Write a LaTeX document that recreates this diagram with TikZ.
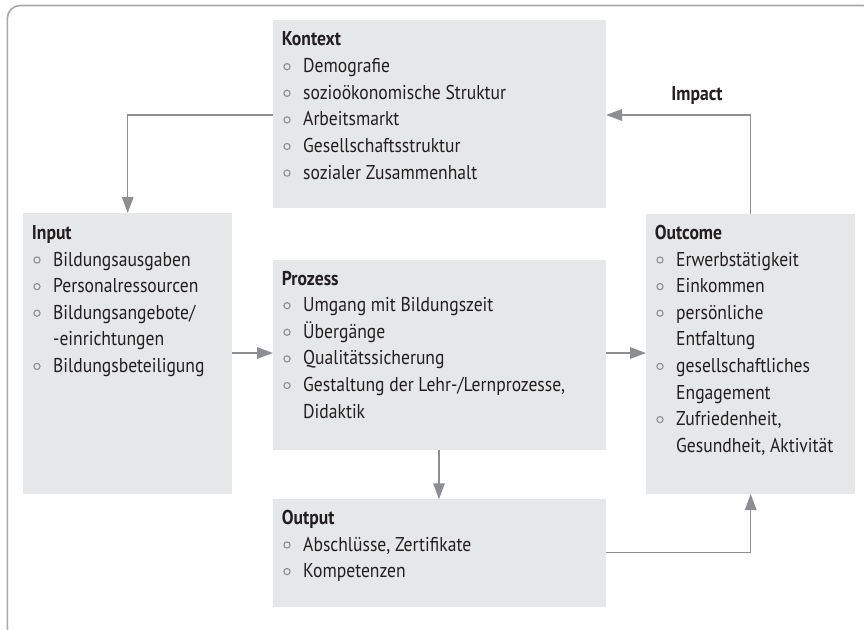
\documentclass[tikz,border=0pt]{standalone}
\usepackage{fontspec}
\setmainfont{PT Sans}[FakeStretch=0.88]
\usetikzlibrary{arrows.meta,calc}
\definecolor{boxfill}{HTML}{E6E7E8}
\definecolor{linegray}{HTML}{8C8E91}
\definecolor{framegray}{HTML}{A8A8A8}
\definecolor{txt}{HTML}{231F20}
\newcommand{\bitem}[4]{%
  \node[itemtxt] (#1) at (#2,#3) {#4};
  \draw[bul] ($(#1.base west)+(-16,-6)$) circle (3.1pt);}
\newcommand{\citem}[4]{%
  \node[itemtxt] (#1) at (#2,#3) {#4};}
\begin{document}
\begin{tikzpicture}[x=1pt,y=-1pt,
  box/.style={fill=boxfill,draw=none,inner sep=0pt,outer sep=0pt,anchor=north west},
  head/.style={anchor=base west,inner sep=0pt,text=txt,font=\fontsize{20}{26.6}\selectfont\bfseries},
  itemtxt/.style={anchor=base west,inner sep=0pt,text=txt,font=\fontsize{20}{26.6}\selectfont},
  bul/.style={draw=linegray,line width=1.1pt},
  conn/.style={draw=linegray,line width=1.5pt,-{Triangle[length=16pt,width=11.5pt]}},
  frame/.style={draw=framegray,line width=1.6pt}]
\useasboundingbox (0,0) rectangle (864,629);
\draw[frame,rounded corners=13pt] (7.3,5.5) rectangle (876,641);
% boxes
\node[box,minimum width=333pt,minimum height=188pt] (kontext) at (273,20) {};
\node[box,minimum width=209pt,minimum height=281pt] (input) at (23,213) {};
\node[box,minimum width=333pt,minimum height=190pt] (prozess) at (273,260) {};
\node[box,minimum width=209pt,minimum height=280pt] (outcome) at (646,214) {};
\node[box,minimum width=333pt,minimum height=107.5pt] (output) at (273,499.3) {};
% Kontext
\node[head] (hk) at (281.7,45) {Kontext};
\bitem{k1}{303}{72.7}{Demografie}
\bitem{k2}{303}{99.3}{sozioökonomische Struktur}
\bitem{k3}{303}{125.9}{Arbeitsmarkt}
\bitem{k4}{303}{152.5}{Gesellschaftsstruktur}
\bitem{k5}{303}{179.1}{sozialer Zusammenhalt}
% Input
\node[head] (hi) at (31.7,239.3) {Input};
\bitem{i1}{53}{266}{Bildungsausgaben}
\bitem{i2}{53}{292.6}{Personalressourcen}
\bitem{i3}{53}{319.2}{Bildungsangebote/}
\citem{i3b}{53}{345.8}{-einrichtungen}
\bitem{i4}{53}{372.4}{Bildungsbeteiligung}
% Prozess
\node[head] (hp) at (281.7,285) {Prozess};
\bitem{p1}{303}{311.7}{Umgang mit Bildungszeit}
\bitem{p2}{303}{338.3}{Übergänge}
\bitem{p3}{303}{364.9}{Qualitätssicherung}
\bitem{p4}{303}{391.5}{Gestaltung der Lehr-/Lernprozesse,}
\citem{p4b}{303}{418.1}{Didaktik}
% Outcome
\node[head] (ho) at (654.7,239.3) {Outcome};
\bitem{o1}{676}{266}{Erwerbstätigkeit}
\bitem{o2}{676}{292.6}{Einkommen}
\bitem{o3}{676}{319.2}{persönliche}
\citem{o3b}{676}{345.8}{Entfaltung}
\bitem{o4}{676}{372.4}{gesellschaftliches}
\citem{o4b}{676}{399}{Engagement}
\bitem{o5}{676}{425.6}{Zufriedenheit,}
\citem{o5b}{676}{452.2}{Gesundheit, Aktivität}
% Output
\node[head] (hu) at (281.7,524.3) {Output};
\bitem{u1}{303}{551}{Abschlüsse, Zertifikate}
\bitem{u2}{303}{577.6}{Kompetenzen}
% Impact label
\node[head,anchor=base] (impact) at (697,100.7) {Impact};
% connectors
\coordinate (kl) at (273,115);
\coordinate (kr) at (606,115);
\draw[conn] (kl) -| (input.north -| 127.7,0);
\draw[conn] (input.east |- 0,353) -- (prozess.west |- 0,353);
\draw[conn] (prozess.east |- 0,353) -- (outcome.west |- 0,353);
\draw[conn] (prozess.south -| 439,0) -- (output.north -| 439,0);
\draw[conn] (output.east |- 0,552.7) -| (outcome.south -| 750.7,0);
\draw[conn] (outcome.north -| 750.7,0) |- (kr);
\end{tikzpicture}
\end{document}
